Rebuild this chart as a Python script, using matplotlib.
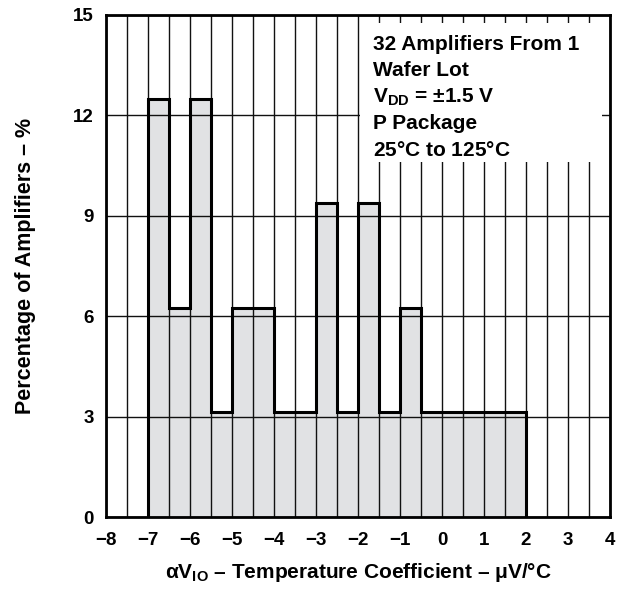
import numpy as np
import matplotlib.pyplot as plt
from matplotlib.patches import Rectangle

plt.rcParams["font.family"] = ["Liberation Sans", "DejaVu Sans"]
plt.rcParams["font.weight"] = "bold"
plt.rcParams["mathtext.fontset"] = "custom"
plt.rcParams["mathtext.rm"] = "Liberation Sans"
plt.rcParams["mathtext.bf"] = "Liberation Sans:bold"
plt.rcParams["mathtext.it"] = "Liberation Sans:italic"

# ---- data: percentage of amplifiers per 0.5 uV/C bin, -7 .. 2
bin_edges = [-7.0, -6.5, -6.0, -5.5, -5.0, -4.5, -4.0, -3.5, -3.0, -2.5,
             -2.0, -1.5, -1.0, -0.5, 0.0, 0.5, 1.0, 1.5, 2.0]
percent = [12.5, 6.25, 12.5, 3.125, 6.25, 6.25, 3.125, 3.125, 9.375, 3.125,
           9.375, 3.125, 6.25, 3.125, 3.125, 3.125, 3.125, 3.125]
x_ticks = [-8, -7, -6, -5, -4, -3, -2, -1, 0, 1, 2, 3, 4]
x_ticklabels = ["\u22128", "\u22127", "\u22126", "\u22125", "\u22124", "\u22123",
                "\u22122", "\u22121", "0", "1", "2", "3", "4"]
y_ticks = [0, 3, 6, 9, 12, 15]
info_lines = ["32 Amplifiers From 1", "Wafer Lot",
              r"$\mathbf{V_{DD}}$ = $\pm$1.5 V", "P Package",
              r"25$\mathrm{\degree}$C to 125$\mathrm{\degree}$C"]
x_label = (r"$\mathrm{\alpha}\mathbf{V_{IO}}$ " + "\u2013 Temperature Coefficient \u2013 "
           + r"$\mathrm{\mu}$V/$\mathrm{\degree}$C")
y_label = "Percentage of Amplifiers \u2013 %"

fig = plt.figure(figsize=(6.18, 5.91), dpi=100)
ax = fig.add_axes([0.172, 0.125, 0.815, 0.85])

ax.stairs(percent, bin_edges, fill=True, color="#e1e2e4", zorder=1)
ax.stairs(percent, bin_edges, color="black", lw=2.2, baseline=0, zorder=3)

ax.set_xlim(-8, 4)
ax.set_ylim(0, 15)
ax.set_xticks(x_ticks)
ax.set_xticklabels(x_ticklabels)
ax.set_xticks(np.arange(-8, 4.01, 0.5), minor=True)
ax.set_yticks(y_ticks)
ax.tick_params(axis="both", which="both", length=0, labelsize=13.5)
ax.tick_params(axis="x", pad=11)
ax.tick_params(axis="y", pad=9)
ax.set_axisbelow(False)
ax.grid(True, which="both", color="#111111", lw=1.0)
for s in ax.spines.values():
    s.set_linewidth(2)
    s.set_zorder(6)

# white box for the annotation
ax.add_patch(Rectangle((-1.95, 10.6), 5.76, 4.16, facecolor="white",
                       edgecolor="none", zorder=4))
for i, line in enumerate(info_lines):
    ax.text(-1.65, 14.12 - i * 0.79, line, fontsize=15, fontweight="bold",
            va="center", ha="left", zorder=5)

ax.set_xlabel(x_label, fontsize=15, fontweight="bold", labelpad=8)
ax.set_ylabel(y_label, fontsize=15.5, fontweight="bold", labelpad=27)

fig.savefig("out.png", dpi=100)
